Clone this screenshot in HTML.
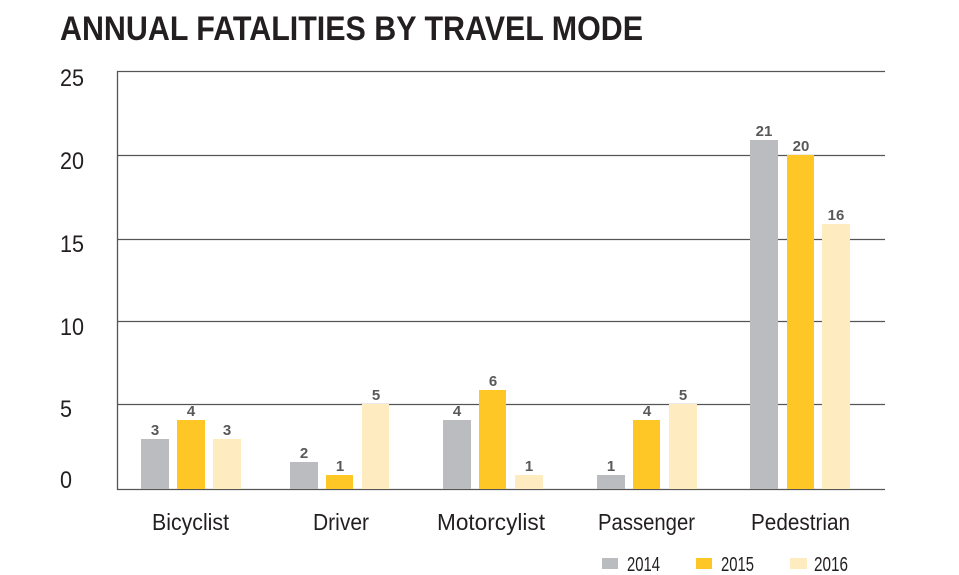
<!DOCTYPE html>
<html><head><meta charset="utf-8"><style>body{margin:0;background:#fff}svg{display:block}</style></head>
<body>
<svg width="959" height="575" xmlns="http://www.w3.org/2000/svg" font-family="'Liberation Sans',sans-serif">
<text x="60" y="40" font-size="34" font-weight="bold" fill="#231f20" textLength="583" lengthAdjust="spacingAndGlyphs">ANNUAL FATALITIES BY TRAVEL MODE</text>
<g stroke="#555" stroke-width="1.3">
<line x1="117" y1="71.5" x2="885" y2="71.5"/>
<line x1="117" y1="155.5" x2="885" y2="155.5"/>
<line x1="117" y1="239.5" x2="885" y2="239.5"/>
<line x1="117" y1="321.5" x2="885" y2="321.5"/>
<line x1="117" y1="404.5" x2="885" y2="404.5"/>
<line x1="117" y1="489.5" x2="885" y2="489.5"/>
<line x1="117.5" y1="71" x2="117.5" y2="490"/>
</g>
<g font-size="24" fill="#231f20">
<text x="60" y="86" textLength="24" lengthAdjust="spacingAndGlyphs">25</text><text x="60" y="169" textLength="24" lengthAdjust="spacingAndGlyphs">20</text><text x="60" y="252" textLength="24" lengthAdjust="spacingAndGlyphs">15</text>
<text x="60" y="335" textLength="24" lengthAdjust="spacingAndGlyphs">10</text><text x="60" y="417" textLength="12" lengthAdjust="spacingAndGlyphs">5</text><text x="60" y="488" textLength="12" lengthAdjust="spacingAndGlyphs">0</text>
</g>
<g>
<rect x="141" y="439" width="28" height="50" fill="#bbbcbf"/>
<rect x="177" y="420" width="28" height="69" fill="#ffc726"/>
<rect x="213" y="439" width="28" height="50" fill="#feebc0"/>
<rect x="290" y="462" width="28" height="27" fill="#bbbcbf"/>
<rect x="326" y="475" width="27" height="14" fill="#ffc726"/>
<rect x="362" y="404" width="27" height="85" fill="#feebc0"/>
<rect x="443" y="420" width="28" height="69" fill="#bbbcbf"/>
<rect x="479" y="390" width="27" height="99" fill="#ffc726"/>
<rect x="515" y="475" width="28" height="14" fill="#feebc0"/>
<rect x="597" y="475" width="28" height="14" fill="#bbbcbf"/>
<rect x="633" y="420" width="27" height="69" fill="#ffc726"/>
<rect x="669" y="404" width="28" height="85" fill="#feebc0"/>
<rect x="750" y="140" width="28" height="349" fill="#bbbcbf"/>
<rect x="787" y="155" width="27" height="334" fill="#ffc726"/>
<rect x="822" y="224" width="28" height="265" fill="#feebc0"/>
</g>
<g font-size="15" font-weight="bold" fill="#58595b" text-anchor="middle">
<text x="155" y="435">3</text><text x="191" y="416">4</text><text x="227" y="435">3</text>
<text x="304" y="458">2</text><text x="340" y="471">1</text><text x="376" y="400">5</text>
<text x="457" y="416">4</text><text x="493" y="386">6</text><text x="529" y="471">1</text>
<text x="611" y="471">1</text><text x="647" y="416">4</text><text x="683" y="400">5</text>
<text x="764" y="136">21</text><text x="801" y="151">20</text><text x="836" y="220">16</text>
</g>
<g font-size="23" fill="#231f20">
<text x="152" y="530" textLength="77" lengthAdjust="spacingAndGlyphs">Bicyclist</text>
<text x="313" y="530" textLength="56" lengthAdjust="spacingAndGlyphs">Driver</text>
<text x="437" y="530" textLength="108" lengthAdjust="spacingAndGlyphs">Motorcylist</text>
<text x="598" y="530" textLength="97" lengthAdjust="spacingAndGlyphs">Passenger</text>
<text x="751" y="530" textLength="99" lengthAdjust="spacingAndGlyphs">Pedestrian</text>
</g>
<rect x="602" y="558" width="16" height="11" fill="#bbbcbf"/>
<rect x="696" y="558" width="16" height="11" fill="#ffc726"/>
<rect x="790" y="558" width="17" height="11" fill="#feebc0"/>
<g font-size="20" fill="#231f20">
<text x="627" y="571" textLength="33" lengthAdjust="spacingAndGlyphs">2014</text>
<text x="721" y="571" textLength="33" lengthAdjust="spacingAndGlyphs">2015</text>
<text x="814" y="571" textLength="34" lengthAdjust="spacingAndGlyphs">2016</text>
</g>
</svg>
</body></html>
